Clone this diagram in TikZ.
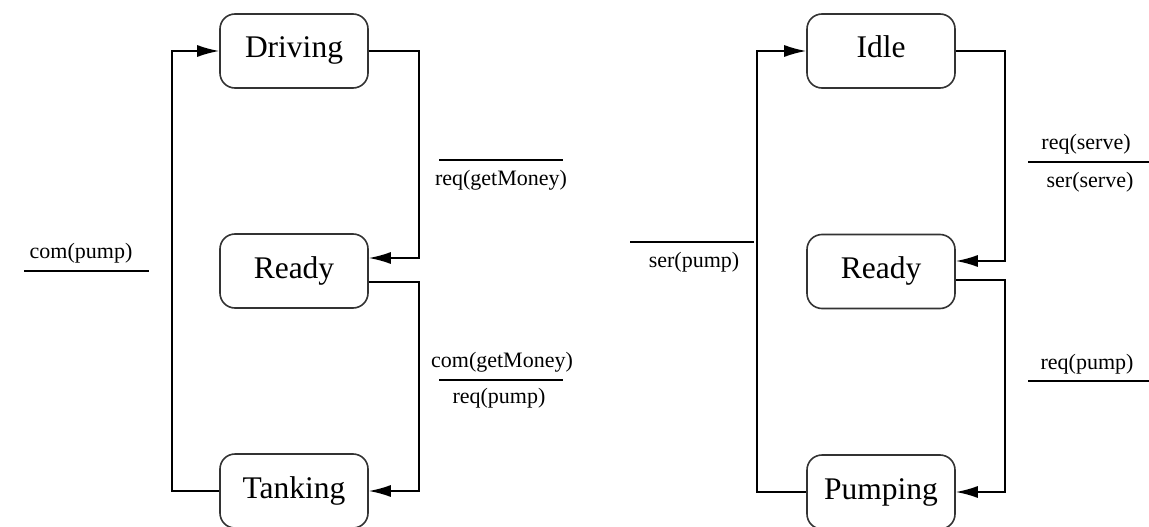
\documentclass[tikz,border=0pt]{standalone}
\usepackage{fontspec}
\setmainfont{Liberation Serif}
\usetikzlibrary{arrows.meta}
\begin{document}
\begin{tikzpicture}[x=1pt,y=-1pt,
  state/.style={draw=black!80, line width=1.6pt, rounded corners=15pt,
    minimum width=148pt, minimum height=74pt, inner sep=0pt,
    font=\fontsize{31.5}{36}\selectfont, text height=21pt, text depth=7pt},
  trans/.style={line width=1.7pt, -{Latex[length=22pt,width=12pt]}},
  lbl/.style={inner sep=0pt, font=\fontsize{22}{26}\selectfont},
  bar/.style={line width=1.7pt}]
\useasboundingbox (0,0) rectangle (1149,527);

% ---- car automaton ----
\node[state] (drv)  at (294,51)  {Driving};
\node[state] (rdyA) at (294,271) {Ready};
\node[state] (tnk)  at (294,491) {Tanking};

\draw[trans] (tnk.west) -- ++(-47,0) |- (drv.west);
\draw[trans] (drv.east) -- ++(50,0) |- ([yshift=13pt]rdyA.east);
\draw[trans] ([yshift=-11pt]rdyA.east) -- ++(50,0) |- (tnk.east);

\node[lbl] (gA) at (501,180) {req(getMoney)};
\draw[bar] (439,160) -- (563,160);
\node[lbl] (gB) at (502,362) {com(getMoney)};
\draw[bar] (439,380) -- (563,380);
\node[lbl] (gC) at (499,398) {req(pump)};
\node[lbl] (gD) at (81,253) {com(pump)};
\draw[bar] (24,271) -- (149,271);

% ---- pump automaton ----
\node[state] (idle) at (881,51)    {Idle};
\node[state] (rdyB) at (881,271.5) {Ready};
\node[state] (pmp)  at (881,492)   {Pumping};

\draw[trans] (pmp.west) -- ++(-49,0) |- (idle.west);
\draw[trans] (idle.east) -- ++(49,0) |- ([yshift=10.5pt]rdyB.east);
\draw[trans] ([yshift=-8.5pt]rdyB.east) -- ++(49,0) |- (pmp.east);

\node[lbl] (hA) at (1086,144) {req(serve)};
\draw[bar] (1028,162) -- (1149,162);
\node[lbl] (hB) at (1090,182) {ser(serve)};
\node[lbl] (hC) at (1087,364) {req(pump)};
\draw[bar] (1028,381) -- (1149,381);
\draw[bar] (630,242) -- (754,242);
\node[lbl] (hD) at (694,262) {ser(pump)};
\end{tikzpicture}
\end{document}
